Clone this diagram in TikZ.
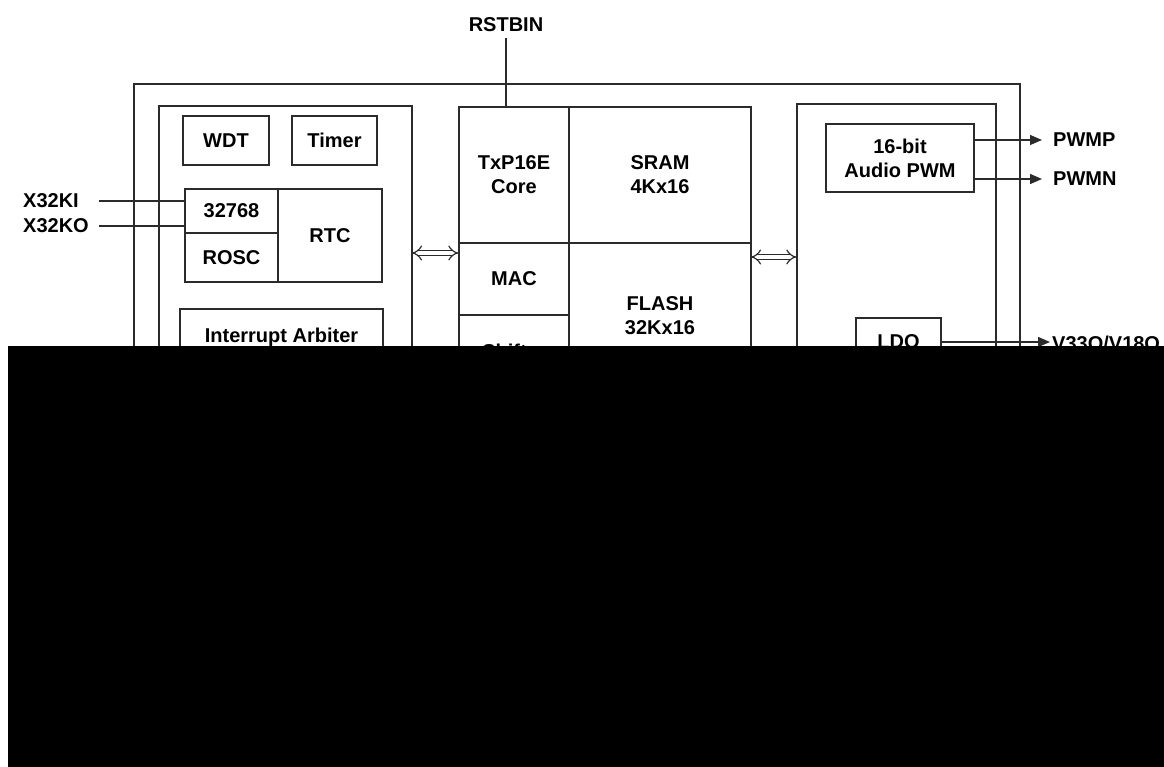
\documentclass[tikz,border=0pt]{standalone}
\usepackage{fontspec}
\setmainfont{Liberation Sans}
\usetikzlibrary{arrows.meta, positioning}
\definecolor{strich}{HTML}{2B2B2B}

\begin{document}
\begin{tikzpicture}[x=1pt, y=-1pt,
    blk/.style={draw=strich, line width=1.3pt, align=center, inner sep=0pt,
                font=\bfseries\fontsize{20}{24}\selectfont},
    lbl/.style={inner sep=0pt, font=\bfseries\fontsize{20}{24}\selectfont},
    wire/.style={strich, line width=1.3pt},
    arr/.style={wire, -{Triangle[length=12pt, width=10pt]}},
    bus/.style={{Implies[length=8pt, width=13pt]}-{Implies[length=8pt, width=13pt]},
                double=white, double distance=4pt, line width=1.2pt, strich}
  ]
  \useasboundingbox (0,0) rectangle (1164,767);

  % chip frame and the three columns
  \draw[wire] (134,84) rectangle (1020,740);
  \node[blk, minimum width=253pt, minimum height=614pt] (periph) at (285.5,413) {};
  \node[blk, minimum width=199pt, minimum height=616pt] (io) at (896.5,412) {};

  % peripherals
  \node[blk, minimum width=86pt, minimum height=49pt] (wdt) at (226,140.5) {WDT};
  \node[blk, minimum width=85pt, minimum height=49pt] (timer) at (334.5,140.5) {Timer};
  \node[blk, minimum width=93pt, minimum height=44pt] (osc) at (231.5,211) {32768};
  \node[blk, minimum width=93pt, minimum height=49pt] (rosc) at (231.5,257.5) {ROSC};
  \node[blk, minimum width=104pt, minimum height=93pt] (rtc) at (330,235.5) {RTC};
  \node[blk, minimum width=203pt, minimum height=56pt] (irq) at (281.5,337) {Interrupt Arbiter};

  % core and memories
  \node[blk, minimum width=110pt, minimum height=136pt] (core) at (514,175) {TxP16E\\Core};
  \node[blk, minimum width=182pt, minimum height=136pt] (sram) at (660,175) {SRAM\\4Kx16};
  \node[blk, minimum width=110pt, minimum height=72pt] (mac) at (514,279) {MAC};
  \node[blk, minimum width=110pt, minimum height=72pt] (shift) at (514,351) {Shifter};
  \node[blk, minimum width=182pt, minimum height=146pt] (flash) at (660,316) {FLASH\\32Kx16};

  % analog side
  \node[blk, minimum width=148pt, minimum height=68pt] (pwm) at (900,158) {16-bit\\Audio PWM};
  \node[blk, minimum width=85pt, minimum height=48pt] (ldo) at (898.5,342) {LDO};

  % pins
  \node[lbl] (rstbin) at (506,25) {RSTBIN};
  \node[lbl, anchor=west] (ki) at (23,201) {X32KI};
  \node[lbl, anchor=west] (ko) at (23,226) {X32KO};
  \node[lbl, anchor=west] (pwmp) at (1053,140) {PWMP};
  \node[lbl, anchor=west] (pwmn) at (1053,179) {PWMN};
  \node[lbl, anchor=west] (vout) at (1052,343) {V33O/V18O};
  \coordinate (kiend) at (99,201);
  \coordinate (koend) at (99,226);
  \coordinate (busL) at (412,253);
  \coordinate (busR) at (751,257);

  \draw[wire] (rstbin.south) ++(0,6) -- (rstbin.south |- core.north);
  \draw[wire] (kiend) -- (kiend -| osc.west);
  \draw[wire] (koend) -- (koend -| osc.west);
  \draw[arr, shorten >=11pt] (pwm.east |- pwmp) -- (pwmp.west);
  \draw[arr, shorten >=11pt] (pwm.east |- pwmn) -- (pwmn.west);
  \draw[arr, shorten >=2pt] (ldo.east) -- (ldo.east -| vout.west);

  \draw[bus] (busL) -- (busL -| core.west);
  \draw[bus] (busR) -- (busR -| io.west);

  % blacked-out lower part
  \fill[black] (8,346) rectangle (1164,767);
\end{tikzpicture}
\end{document}
